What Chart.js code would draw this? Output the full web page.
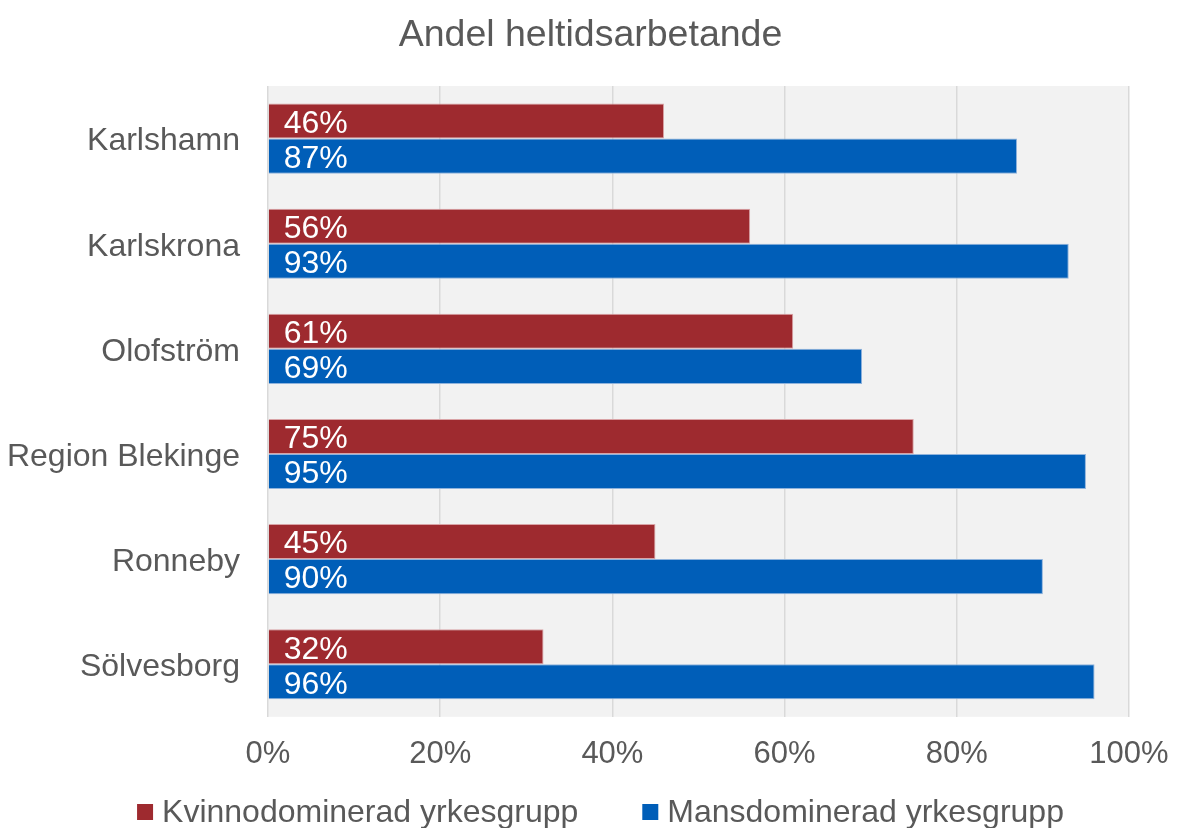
<!DOCTYPE html>
<html>
<head>
<meta charset="utf-8">
<title>Andel heltidsarbetande</title>
<script src="https://cdn.jsdelivr.net/npm/chart.js@4/dist/chart.umd.min.js"></script>
<style>
  html, body { margin: 0; padding: 0; background: #ffffff; }
  #wrap { width: 1181px; height: 828px; }
</style>
</head>
<body>
<div id="wrap"><canvas id="chart" width="1181" height="828"></canvas></div>
<script>
// Kommuner och andel heltidsarbetande (%)
const kommuner = ['Karlshamn', 'Karlskrona', 'Olofström', 'Region Blekinge', 'Ronneby', 'Sölvesborg'];
const kvinnodominerad = [46, 56, 61, 75, 45, 32];
const mansdominerad = [87, 93, 69, 95, 90, 96];
const xTicks = [0, 20, 40, 60, 80, 100];

const FONT = '"Liberation Sans", Arial, sans-serif';
const GREY_TEXT = '#595959';

// grey plot background
const plotBackground = {
    id: 'plotBackground',
    beforeDraw(chart) {
        const { ctx, chartArea } = chart;
        ctx.save();
        ctx.fillStyle = '#f2f2f2';
        ctx.fillRect(chartArea.left, chartArea.top, chartArea.right - chartArea.left, chartArea.bottom - chartArea.top);
        ctx.restore();
    }
};

// white value labels at the inner start of each bar
const barLabels = {
    id: 'barLabels',
    afterDatasetsDraw(chart) {
        const ctx = chart.ctx;
        ctx.save();
        ctx.font = '32px ' + FONT;
        ctx.fillStyle = '#ffffff';
        ctx.textAlign = 'left';
        ctx.textBaseline = 'middle';
        chart.data.datasets.forEach((ds, i) => {
            chart.getDatasetMeta(i).data.forEach((bar, j) => {
                ctx.fillText(ds.data[j] + '%', bar.base + 15, bar.y + 3);
            });
        });
        ctx.restore();
    }
};

// legend row along the bottom edge: small square, short gap, text
const bottomLegend = {
    id: 'bottomLegend',
    afterDraw(chart) {
        const ctx = chart.ctx;
        const box = 16, gap = 9, itemGap = 64;
        const y = chart.height - 16;
        ctx.save();
        ctx.font = '32px ' + FONT;
        ctx.textBaseline = 'middle';
        ctx.textAlign = 'left';
        const items = chart.data.datasets.map(ds => ({
            text: ds.label,
            color: ds.backgroundColor,
            w: box + gap + ctx.measureText(ds.label).width
        }));
        const total = items.reduce((s, it) => s + it.w, 0) + itemGap * (items.length - 1);
        let x = (chart.width + 20) / 2 - total / 2;
        items.forEach(it => {
            ctx.fillStyle = it.color;
            ctx.fillRect(x, y - box / 2, box, box);
            ctx.fillStyle = GREY_TEXT;
            ctx.fillText(it.text, x + box + gap, y + 1);
            x += it.w + itemGap;
        });
        ctx.restore();
    }
};

new Chart(document.getElementById('chart'), {
    type: 'bar',
    data: {
        labels: kommuner,
        datasets: [
            {
                label: 'Kvinnodominerad yrkesgrupp',
                data: kvinnodominerad,
                backgroundColor: '#9e2a2f',
                borderColor: '#d9a3a6',
                borderWidth: 1,
                borderSkipped: 'left'
            },
            {
                label: 'Mansdominerad yrkesgrupp',
                data: mansdominerad,
                backgroundColor: '#005eb8',
                borderColor: '#8fb3dc',
                borderWidth: 1,
                borderSkipped: 'left'
            }
        ]
    },
    options: {
        indexAxis: 'y',
        responsive: false,
        animation: false,
        devicePixelRatio: 1,
        categoryPercentage: 0.667,
        barPercentage: 1.0,
        layout: {
            padding: { left: 0, right: 0, top: 0, bottom: 36 }
        },
        scales: {
            x: {
                min: 0,
                max: 100,
                afterBuildTicks(scale) {
                    scale.ticks = xTicks.map(v => ({ value: v }));
                },
                afterFit(scale) {
                    scale.paddingRight = 52;
                },
                ticks: {
                    callback: v => v + '%',
                    color: GREY_TEXT,
                    font: { family: FONT, size: 31 },
                    padding: 19
                },
                grid: {
                    color: '#d9d9d9',
                    lineWidth: 1.5,
                    drawTicks: false
                },
                border: { display: false }
            },
            y: {
                afterFit(scale) {
                    scale.width = 268;
                },
                ticks: {
                    color: GREY_TEXT,
                    font: { family: FONT, size: 32 },
                    padding: 28,
                    labelOffset: 3
                },
                grid: { display: false, drawTicks: false },
                border: { display: false }
            }
        },
        plugins: {
            title: {
                display: true,
                text: 'Andel heltidsarbetande',
                color: GREY_TEXT,
                font: { family: FONT, size: 37.5, weight: 'normal' },
                padding: { top: 13, bottom: 28 }
            },
            legend: { display: false },
            tooltip: { enabled: false }
        }
    },
    plugins: [plotBackground, barLabels, bottomLegend]
});
</script>
</body>
</html>
